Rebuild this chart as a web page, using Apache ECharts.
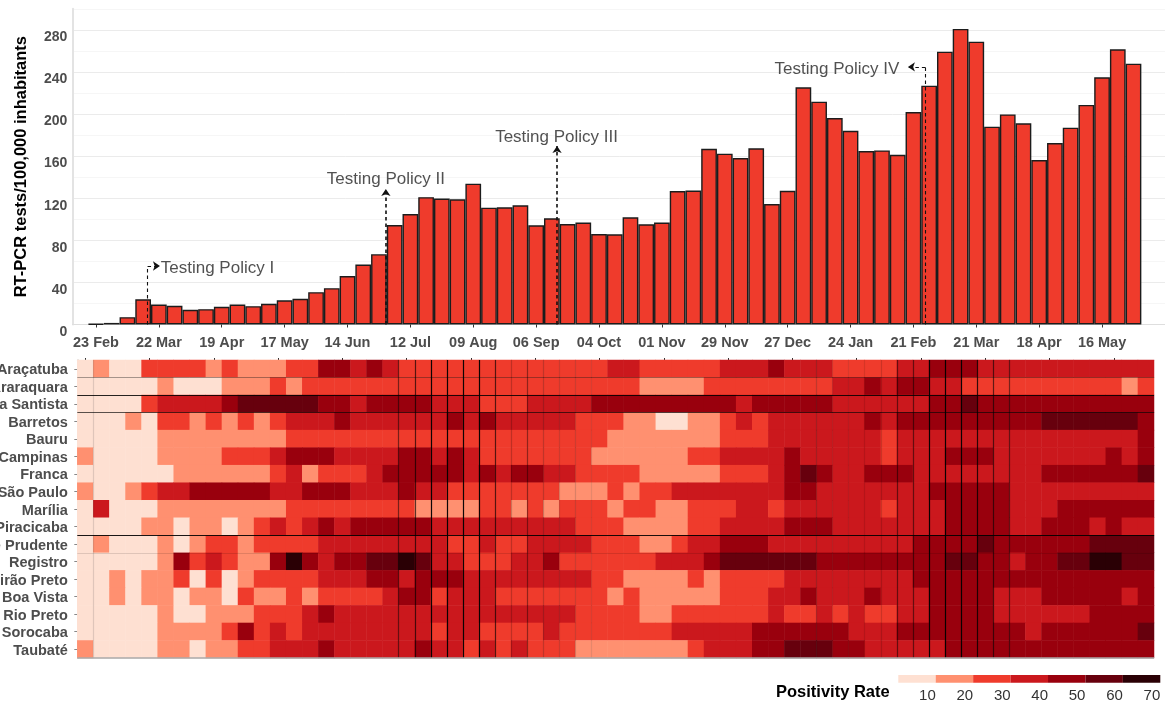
<!DOCTYPE html>
<html><head><meta charset="utf-8">
<script src="https://cdn.jsdelivr.net/npm/echarts@6/dist/echarts.min.js"></script>
<style>html,body{margin:0;padding:0;background:#fff}#c{width:1165px;height:705px}</style>
</head><body><div id="c"></div>
<script>
const tickLabels=['23 Feb','22 Mar','19 Apr','17 May','14 Jun','12 Jul','09 Aug','06 Sep','04 Oct','01 Nov','29 Nov','27 Dec','24 Jan','21 Feb','21 Mar','18 Apr','16 May'];
const testsPer100k=[0.6,1.5,7,24,19,17.7,14,14.6,16.8,19,17.4,19.6,23,24.4,30.7,34.5,46,57,66.8,94.5,
105,121,119.6,119,133.8,111,111.3,113.2,94.2,100.9,95.5,96.8,86,85.7,101.8,95.2,96.8,126.8,127.2,167,
162.3,158.2,167.4,114.5,127,225.3,211.7,196.2,184.1,164.8,165.4,161.3,201.9,226.9,259.2,280.8,268.7,188,199.6,191.2,
156.3,172.4,187,208.6,234.9,261.5,247.8];
const regions=['Araçatuba','Araraquara','Baixada Santista','Barretos','Bauru','Campinas','Franca','Grande São Paulo','Marília','Piracicaba','Presidente Prudente','Registro','Ribeirão Preto','São João da Boa Vista','São José do Rio Preto','Sorocaba','Taubaté'];
// positivity bin per week: 1 = up to 10, 2 = up to 20 ... 7 = up to 70
const aracatuba=[1,2,1,1,3,3,3,3,2,3,2,2,2,3,3,5,5,4,5,4,3,3,3,3,3,3,3,3,3,3,3,3,3,4,4,3,3,3,3,3,4,4,4,5,4,4,4,3,3,3,3,4,4,5,5,5,4,4,4,4,4,4,4,4,4,4,4];
const araraquara=[1,1,1,1,1,2,1,1,1,2,2,2,3,2,3,3,3,3,3,3,3,3,3,3,3,3,3,3,3,3,3,3,3,3,3,2,2,2,2,3,3,3,3,3,3,3,3,4,4,5,4,5,5,4,4,3,3,3,3,3,3,3,3,3,3,2,3];
const santista=[1,1,1,1,3,4,4,4,4,5,6,6,6,6,6,5,5,4,5,5,5,5,4,4,4,3,3,3,4,4,4,4,5,5,5,5,5,5,5,5,5,4,5,5,5,5,5,4,4,4,4,4,4,5,5,6,5,5,5,5,5,5,5,5,5,5,5];
const barretos=[1,1,1,2,1,3,3,2,3,2,3,2,3,4,4,4,5,4,4,4,4,4,4,5,4,5,4,4,4,4,4,3,3,3,2,2,1,1,2,2,3,4,3,4,4,4,4,4,4,5,4,5,5,5,5,5,5,5,5,5,6,6,6,6,6,6,5];
const bauru=[1,1,1,1,1,2,2,2,2,2,2,2,2,3,3,3,3,3,3,3,3,3,3,3,3,3,3,3,3,3,3,3,3,2,2,2,2,2,2,2,3,3,3,4,4,4,4,4,4,4,3,4,4,4,4,4,4,4,4,4,4,4,4,4,4,4,5];
const campinas=[2,1,1,1,1,2,2,2,2,3,3,3,4,5,5,5,4,4,4,4,5,5,4,5,4,3,3,3,3,3,3,3,2,2,2,2,2,2,3,3,4,4,4,4,5,4,4,4,4,4,3,4,4,4,5,5,5,4,4,4,4,4,4,4,5,4,5];
const franca=[1,1,1,1,1,1,2,2,2,2,2,2,3,4,2,3,3,3,4,5,5,5,5,5,4,5,4,5,5,4,4,3,3,3,3,2,2,2,2,2,3,3,3,4,5,6,5,4,4,5,5,5,4,4,4,4,4,4,4,4,5,5,5,5,5,5,6];
const saoPaulo=[2,1,1,2,3,4,4,5,5,5,5,5,4,4,5,5,5,4,4,4,5,4,4,3,3,3,3,3,3,3,2,2,2,3,2,3,3,4,4,4,4,4,4,4,5,5,4,4,4,4,4,4,4,5,5,5,5,5,4,4,4,4,4,4,4,4,4];
const marilia=[1,4,1,1,1,2,2,2,2,2,2,2,2,3,3,3,3,3,3,3,3,2,2,2,2,3,3,2,3,2,3,3,3,2,3,3,2,2,3,3,3,4,4,3,4,4,4,4,4,4,3,4,4,4,5,5,5,5,4,4,4,5,5,5,5,5,5];
const piracicaba=[1,1,1,1,2,2,1,2,2,1,2,3,4,3,4,5,4,5,5,5,5,5,4,4,4,4,4,4,4,4,4,3,3,3,2,2,2,2,3,3,4,4,4,4,5,5,5,4,4,4,4,4,4,4,5,5,5,5,4,4,5,5,5,4,5,4,4];
const prudente=[1,2,1,1,1,2,1,2,3,3,2,3,3,3,3,4,4,4,4,4,4,4,4,3,3,4,3,3,4,4,4,4,3,3,3,2,2,3,4,4,5,5,5,4,4,4,4,4,4,4,4,4,5,5,5,5,6,5,5,5,5,5,5,6,6,6,6];
const registro=[1,1,1,1,1,2,5,3,4,3,2,2,5,7,5,4,5,5,6,6,7,6,4,4,3,3,3,4,4,5,3,3,3,3,3,3,4,4,4,5,6,6,6,6,6,6,5,5,5,5,5,5,5,5,6,6,5,5,4,5,5,6,6,7,7,6,6];
const ribeirao=[1,1,2,1,2,2,3,1,3,1,2,3,3,3,3,4,4,4,5,5,4,5,5,5,4,4,4,4,4,4,4,4,3,3,2,2,2,2,3,2,3,3,3,3,4,4,4,4,4,4,4,4,5,5,5,5,5,5,5,5,5,5,5,5,5,5,5];
const boaVista=[1,1,2,1,2,2,1,2,2,1,3,2,2,3,2,3,3,3,3,4,5,5,3,4,4,4,3,3,3,3,3,3,3,2,3,2,2,2,2,2,3,3,3,4,4,5,4,4,4,5,4,4,4,5,5,5,5,4,4,4,5,5,5,5,5,4,5];
const rioPreto=[1,1,1,1,1,2,1,1,2,2,2,3,3,3,4,5,4,4,4,4,4,4,4,4,4,4,4,4,4,4,4,3,3,3,3,2,2,3,3,3,3,3,3,4,3,3,4,3,4,3,3,4,4,5,5,5,5,4,4,4,4,4,4,5,5,5,5];
const sorocaba=[1,1,1,1,1,2,2,2,2,3,5,3,4,3,4,4,4,4,4,4,4,4,3,4,4,3,3,3,3,4,3,3,3,3,3,3,3,4,4,4,4,4,5,5,5,5,5,5,4,4,4,5,5,5,5,5,5,5,5,4,5,5,5,5,5,5,6];
const taubate=[2,1,1,1,1,2,2,1,2,2,3,3,4,4,4,5,4,4,4,4,4,5,4,4,3,4,3,4,3,3,3,2,2,2,2,2,2,2,3,4,4,4,5,5,6,6,6,5,5,4,4,4,4,4,5,5,5,5,5,5,5,5,5,5,5,5,5];
const heatRows=[aracatuba,araraquara,santista,barretos,bauru,campinas,franca,saoPaulo,marilia,piracicaba,prudente,registro,ribeirao,boaVista,rioPreto,sorocaba,taubate];
const binColors=['#FEE0D2','#FF9070','#EF3B2C','#CB181D','#99000D','#67000D','#2A0005'];
const binLabels=[10,20,30,40,50,60,70];

const heatData=[];
heatRows.forEach((row,r)=>row.forEach((v,c)=>heatData.push([c,r,v])));
const weekIdx=testsPer100k.map((_,i)=>i);
// one empty slot before the first week, two after the last
const barCats=['pad0'].concat(weekIdx.map(i=>'w'+i),['pad1','pad2']);
const barVals=[null].concat(testsPer100k,[null,null]);
const isTick=i=>i>=1&&(i-1)%4===0&&i<=65;
const legendBars=binLabels.map((v,i)=>({value:[v-5,1],itemStyle:{color:binColors[i]}}));

const seg=(a,b,arrow,w)=>[{coord:a,symbol:'none',lineStyle:{width:w}},{coord:b,symbol:arrow?'arrow':'none',symbolSize:7,lineStyle:{width:w}}];
const policyLines=[
 seg([4.78,0],[4.78,55.6],false,1.1),seg([4.78,55.6],[5.57,55.6],true,1.1),
 seg([19.94,0],[19.94,128.7],true,1.6),
 seg([30.83,0],[30.83,169.6],true,1.6),
 seg([54.26,0],[54.26,244.7],false,1.1),seg([54.26,244.7],[53.15,244.7],true,1.1)
];
const policyText=[
 {value:[5.62,53.6],label:{formatter:'Testing Policy I',position:'right',distance:0}},
 {value:[19.94,137.8],label:{formatter:'Testing Policy II',position:'inside'}},
 {value:[30.8,178],label:{formatter:'Testing Policy III',position:'inside'}},
 {value:[52.6,242.6],label:{formatter:'Testing Policy IV',position:'left',distance:0}}
];
// faint-to-dark seams over the tiles: [column boundary, opacity]
const vSeams=[[1,.12],[20,.5],[21,.65],[22,.95],[23,.95],[24,.95],[25,.95],[26,.65],[27,.2],[28,.4],[29,.2],[30,.15],[31,.15],[32,.1],[46,.2],[47,.1],[48,.1],[49,.1],[50,.15],[51,.5],[52,.5],[53,.95],[54,.95],[55,.95],[56,.8],[57,.6],[58,.5]];
const hSeams=[[1,.35],[2,.85],[3,.65],[10,.9],[11,.12]];
const FONT='"Liberation Sans",Arial,sans-serif';

const option={
 animation:false,backgroundColor:'#fff',textStyle:{fontFamily:FONT},
 title:{text:'Positivity Rate',left:776,top:684,padding:0,textStyle:{fontFamily:FONT,fontWeight:'bold',fontSize:16.5,color:'#000'}},
 visualMap:{show:false,type:'piecewise',dimension:2,seriesIndex:1,pieces:binColors.map((c,i)=>({value:i+1,color:c}))},
 grid:[
  {left:72.4,top:8.75,width:1100.4,height:315.75,outerBoundsMode:'none'},
  {left:77.3,top:360,width:1076.7,height:298,outerBoundsMode:'none'},
  {left:898.3,top:675,width:262,height:7.7,outerBoundsMode:'none'}
 ],
 xAxis:[
  {type:'category',gridIndex:0,data:barCats,boundaryGap:true,
   axisLine:{lineStyle:{color:'#dedede',width:1}},
   axisTick:{show:true,alignWithLabel:true,length:3,interval:i=>isTick(i),lineStyle:{color:'#333',width:1}},
   axisLabel:{interval:i=>isTick(i),formatter:(v,i)=>tickLabels[(i-1)/4],fontFamily:FONT,fontWeight:'bold',fontSize:14.5,color:'#4D4D4D',margin:10.5}},
  {type:'value',gridIndex:0,min:0,max:70,show:false},
  {type:'category',gridIndex:1,position:'top',offset:2,data:weekIdx,
   axisLine:{lineStyle:{color:'#e0e0e0',width:1}},
   axisTick:{show:true,alignWithLabel:true,length:2,interval:3,lineStyle:{color:'#333',width:1}},
   axisLabel:{show:false},splitLine:{show:false}},
  {type:'value',gridIndex:1,min:0,max:67,show:false},
  {type:'value',gridIndex:2,min:0,max:70,interval:10,axisLine:{show:false},axisTick:{show:false},splitLine:{show:false},
   axisLabel:{formatter:v=>v===0?'':String(v),align:'right',fontFamily:FONT,fontSize:15,color:'#333',margin:6,showMinLabel:true}}
 ],
 yAxis:[
  {type:'value',gridIndex:0,min:0,max:300,interval:20,offset:1,
   name:'RT-PCR tests/100,000 inhabitants',nameLocation:'middle',nameRotate:90,nameGap:41,
   nameTextStyle:{fontFamily:FONT,fontWeight:'bold',fontSize:16.5,color:'#000'},
   axisLine:{show:true,lineStyle:{color:'#e3e3e3',width:2}},axisTick:{show:false},
   splitLine:{show:true,lineStyle:{color:['#ebebeb','#f6f6f6'],width:1}},
   axisLabel:{formatter:v=>(v%40===0&&v<300)?String(v):'',fontFamily:FONT,fontWeight:'bold',fontSize:14,color:'#4D4D4D',margin:4,verticalAlign:'top',lineHeight:15}},
  {type:'category',gridIndex:1,inverse:true,data:regions,offset:3,
   axisLine:{show:true,lineStyle:{color:'#e0e0e0',width:2}},
   axisTick:{show:true,length:3,alignWithLabel:true,lineStyle:{color:'#888',width:1}},
   axisLabel:{interval:0,fontFamily:FONT,fontWeight:'bold',fontSize:14.5,color:'#4D4D4D',margin:6.5,verticalAlign:'top',lineHeight:3}},
  {type:'value',gridIndex:1,inverse:true,min:0,max:17,show:false},
  {type:'value',gridIndex:2,min:0,max:1,show:false}
 ],
 series:[
  {type:'bar',xAxisIndex:0,yAxisIndex:0,data:barVals,barWidth:'100%',z:3,
   itemStyle:{color:'#EF3B2C',borderColor:'#1c1c1c',borderWidth:1.4}},
  {type:'heatmap',xAxisIndex:2,yAxisIndex:1,data:heatData,z:3,itemStyle:{borderWidth:0},emphasis:{disabled:true}},
  {type:'scatter',xAxisIndex:3,yAxisIndex:2,data:[],z:5,silent:true,
   markLine:{silent:true,animation:false,symbol:'none',label:{show:false},
    data:[...vSeams.map(([c,o])=>({xAxis:c,lineStyle:{color:'#000',opacity:o,width:1.2,type:'solid'}})),
          ...hSeams.map(([r,o])=>({yAxis:r,lineStyle:{color:'#000',opacity:o,width:1.2,type:'solid'}})),
          {yAxis:17,lineStyle:{color:'#aaa',opacity:1,width:1.5,type:'solid'}}]}},
  {type:'scatter',xAxisIndex:1,yAxisIndex:0,data:policyText,symbolSize:0,z:6,silent:true,
   label:{show:true,fontFamily:FONT,fontSize:17,color:'#262626'},
   markLine:{silent:true,animation:false,symbol:'none',label:{show:false},
    lineStyle:{color:'#111',type:[3.5,3],width:1.5},data:policyLines}},
  {type:'bar',xAxisIndex:4,yAxisIndex:3,data:legendBars,barWidth:37.43,silent:true}
 ]
};
const chart=echarts.init(document.getElementById('c'),null,{renderer:'canvas'});
chart.setOption(option);
</script></body></html>
